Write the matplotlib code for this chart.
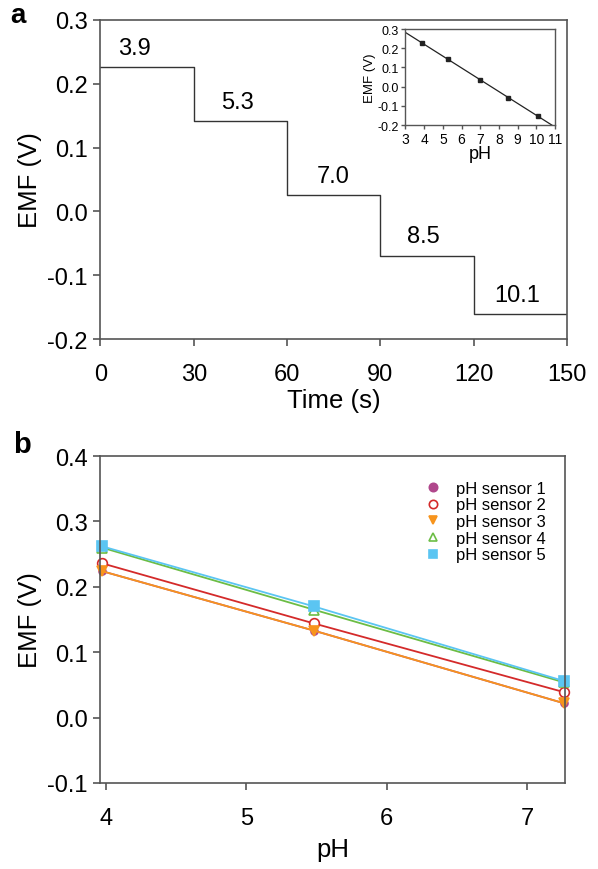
import numpy as np
import matplotlib
matplotlib.use("Agg")
import matplotlib.pyplot as plt

plt.rcParams['font.family'] = ['Liberation Sans', 'DejaVu Sans']

# panel a: step response
step_times = [0, 30, 60, 90, 120, 150]
step_emf = [0.226, 0.141, 0.026, -0.069, -0.161]
step_ph_labels = ["3.9", "5.3", "7.0", "8.5", "10.1"]
label_times = [11, 44, 75, 104, 134]

# inset: calibration
inset_ph = [3.9, 5.3, 7.0, 8.5, 10.1]
inset_emf = [0.227, 0.144, 0.033, -0.061, -0.150]

# panel b: five sensors
ph_b = [3.97, 5.48, 7.26]
sensor_names = ["pH sensor 1", "pH sensor 2", "pH sensor 3", "pH sensor 4", "pH sensor 5"]
sensor_emf = [
    [0.224, 0.133, 0.022],
    [0.236, 0.144, 0.039],
    [0.224, 0.133, 0.022],
    [0.260, 0.165, 0.054],
    [0.262, 0.170, 0.056],
]
sensor_colors = ["#b0478c", "#d42a2a", "#f7941d", "#6cbd45", "#5bc5f2"]
sensor_markers = ["o", "o", "v", "^", "s"]
sensor_filled = [True, False, True, False, True]
sensor_ms = [5, 7, 7, 7, 7]

spine_col = "#555555"


def style_axes(ax, lw=1.2):
    for s in ax.spines.values():
        s.set_color(spine_col)
        s.set_linewidth(lw)
    ax.tick_params(direction="out", color=spine_col, width=lw, top=False, right=False)


fig = plt.figure(figsize=(5.98, 8.70), dpi=100)

# ---- panel a
ax1 = fig.add_axes([0.168, 0.609, 0.780, 0.367])
y_line = step_emf + [step_emf[-1]]
ax1.plot(step_times, y_line, drawstyle="steps-post", color="#333333", lw=1.0)
for t, v, lab in zip(label_times, step_emf, step_ph_labels):
    ax1.text(t, v + 0.013, lab, ha="center", va="bottom", fontsize=17)
ax1.set_xlim(0, 150)
ax1.set_ylim(-0.2, 0.3)
ax1.set_xticks([0, 30, 60, 90, 120, 150])
ax1.set_yticks([-0.2, -0.1, 0.0, 0.1, 0.2, 0.3])
ax1.set_yticklabels(["-0.2", "-0.1", "0.0", "0.1", "0.2", "0.3"])
style_axes(ax1)
ax1.tick_params(labelsize=17, length=5)
ax1.tick_params(axis="x", pad=12)
ax1.tick_params(axis="y", pad=4)
ax1.set_xlabel("Time (s)", fontsize=18.5, labelpad=2)
ax1.set_ylabel("EMF (V)", fontsize=18.5, labelpad=4)
fig.text(0.017, 0.997, "a", fontsize=20, fontweight="bold", va="top")

# ---- inset
axi = fig.add_axes([0.678, 0.855, 0.250, 0.1105])
coef = np.polyfit(inset_ph, inset_emf, 1)
xf = np.array([3, 11])
axi.plot(xf, np.polyval(coef, xf), color="#222222", lw=0.9)
axi.plot(inset_ph, inset_emf, "s", color="#222222", ms=2.5)
axi.set_xlim(3, 11)
axi.set_ylim(-0.2, 0.3)
axi.set_xticks(range(3, 12))
axi.set_yticks([-0.2, -0.1, 0.0, 0.1, 0.2, 0.3])
axi.set_yticklabels(["-0.2", "-0.1", "0.0", "0.1", "0.2", "0.3"])
style_axes(axi, lw=1.0)
axi.tick_params(axis="x", labelsize=10, length=3, pad=2)
axi.tick_params(axis="y", labelsize=9, length=3, pad=1.5)
axi.set_xlabel("pH", fontsize=13, labelpad=-1)
axi.set_ylabel("EMF (V)", fontsize=9.5, labelpad=1)

# ---- panel b
ax2 = fig.add_axes([0.168, 0.0989, 0.777, 0.3758])
for name, vals, c, m, filled, ms in zip(sensor_names, sensor_emf, sensor_colors,
                                        sensor_markers, sensor_filled, sensor_ms):
    ax2.plot(ph_b, vals, color=c, lw=1.3, marker=m, ms=ms,
             mfc=c if filled else "white", mec=c, mew=1.2,
             label=name, clip_on=False)
ax2.set_xlim(3.96, 7.27)
ax2.set_ylim(-0.1, 0.4)
ax2.set_xticks([4, 5, 6, 7])
ax2.set_yticks([-0.1, 0.0, 0.1, 0.2, 0.3, 0.4])
ax2.set_yticklabels(["-0.1", "0.0", "0.1", "0.2", "0.3", "0.4"])
style_axes(ax2)
ax2.tick_params(labelsize=17, length=5)
ax2.tick_params(axis="x", pad=12)
ax2.tick_params(axis="y", pad=4)
ax2.set_xlabel("pH", fontsize=18.5, labelpad=6)
ax2.set_ylabel("EMF (V)", fontsize=18.5, labelpad=4)
leg_handles = []
for c, m, filled in zip(sensor_colors, sensor_markers, sensor_filled):
    h, = ax2.plot([], [], ls="none", marker=m, ms=6, color=c,
                  mfc=c if filled else "white", mec=c, mew=1.2)
    leg_handles.append(h)
ax2.legend(leg_handles, sensor_names, loc="upper left", frameon=False,
           fontsize=12, handletextpad=0.85, labelspacing=0.1, borderpad=0,
           bbox_to_anchor=(0.68, 0.95), handlelength=1.0)
fig.text(0.022, 0.479, "b", fontsize=21, fontweight="bold", va="baseline")

fig.savefig("out.png", dpi=100)
